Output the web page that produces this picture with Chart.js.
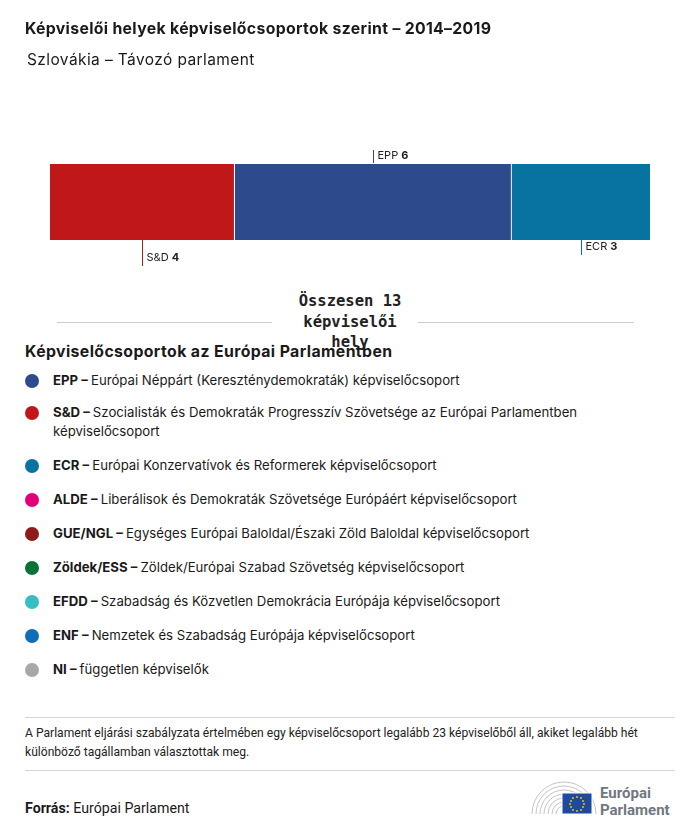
<!DOCTYPE html>
<html><head><meta charset="utf-8">
<script src="https://cdn.jsdelivr.net/npm/chart.js@4"></script>
<style>
html,body{margin:0;padding:0;background:#fff;}
body{width:700px;height:836px;position:relative;overflow:hidden;font-family:Inter,"Open Sans",sans-serif;color:#1a1a1a;}
#wrap{position:absolute;left:0;top:0;width:700px;height:280px;}
.abs{position:absolute;white-space:nowrap;}
#title{left:25px;top:19px;font-size:15.8px;font-weight:700;letter-spacing:0.33px;}
#sub{left:27px;top:50px;font-size:15.5px;letter-spacing:0.4px;}
#total{left:285px;top:291px;width:130px;text-align:center;white-space:normal;font-family:"DejaVu Sans Mono",monospace;font-weight:700;font-size:15.5px;line-height:20.5px;color:#222;}
.hr{position:absolute;height:1px;background:#ccc;}
#ltitle{left:25px;top:342px;font-size:15.8px;font-weight:700;letter-spacing:0.4px;}
.li{position:absolute;left:53px;font-size:13.2px;line-height:19px;width:620px;}
.dot{position:absolute;left:25px;width:14px;height:14px;border-radius:50%;}
#note{left:25px;top:724px;font-size:12.1px;line-height:19px;width:635px;white-space:normal;font-family:Roboto,sans-serif;color:#222;}
#src{left:25px;top:800px;font-size:14.2px;font-family:Roboto,sans-serif;}
</style></head><body>
<div id="wrap"><canvas id="c"></canvas></div>
<div class="abs" id="title">Képviselői helyek képviselőcsoportok szerint – 2014–2019</div>
<div class="abs" id="sub">Szlovákia – Távozó parlament</div>
<div class="hr" style="left:57px;width:215px;top:322px"></div>
<div class="hr" style="left:418px;width:216px;top:322px"></div>
<div class="abs" id="ltitle">Képviselőcsoportok az Európai Parlamentben</div>
<div class="abs" id="total">Összesen 13 képviselői hely</div>
<div id="legend"></div>
<div class="hr" style="left:25px;width:650px;top:717px;background:#d6d6d6"></div>
<div class="abs" id="note">A Parlament eljárási szabályzata értelmében egy képviselőcsoport legalább 23 képviselőből áll, akiket legalább hét különböző tagállamban választottak meg.</div>
<div class="hr" style="left:25px;width:650px;top:770px;background:#d6d6d6"></div>
<div class="abs" id="src"><b>Forrás:</b> Európai Parlament</div>
<svg class="abs" style="left:528px;top:776px" width="150" height="46" viewBox="0 0 150 46">
  <g fill="none" stroke="#b5b5b5" stroke-width="0.8">
    <path d="M4 38 A32 32 0 0 1 68 38"/>
    <path d="M8 38 A28 28 0 0 1 64 38"/>
    <path d="M12 38 A24 24 0 0 1 60 38"/>
    <path d="M16 38 A20 20 0 0 1 56 38"/>
    <path d="M20 38 A16 16 0 0 1 52 38"/>
    <path d="M24 38 A12 12 0 0 1 48 38"/>
    <path d="M28 38 A8 8 0 0 1 44 38"/>
  </g>
  <rect x="34" y="17" width="30" height="21" fill="#1f4a9c" stroke="#fff" stroke-width="1"/>
  <g fill="#f2d600">
    <circle cx="49" cy="21" r="0.9"/><circle cx="53" cy="22" r="0.9"/><circle cx="55" cy="25" r="0.9"/><circle cx="56" cy="28" r="0.9"/>
    <circle cx="55" cy="31" r="0.9"/><circle cx="53" cy="34" r="0.9"/><circle cx="49" cy="35" r="0.9"/><circle cx="45" cy="34" r="0.9"/>
    <circle cx="43" cy="31" r="0.9"/><circle cx="42" cy="28" r="0.9"/><circle cx="43" cy="25" r="0.9"/><circle cx="45" cy="22" r="0.9"/>
  </g>
  <text x="72" y="22" font-family="Roboto,sans-serif" font-weight="700" font-size="15" fill="#6f7880">Európai</text>
  <text x="72" y="39" font-family="Roboto,sans-serif" font-weight="700" font-size="15" fill="#6f7880">Parlament</text>
</svg>
<script>
// ---- data ----
const groups = ["S&D", "EPP", "ECR"];
const seats = [4, 6, 3];
const groupColors = ["#C01818", "#2C4A8C", "#0872A0"];
const totalSeats = 13;

const legendCodes = ["EPP", "S&D", "ECR", "ALDE", "GUE/NGL", "Zöldek/ESS", "EFDD", "ENF", "NI"];
const legendNames = [
  "Európai Néppárt (Kereszténydemokraták) képviselőcsoport",
  "Szocialisták és Demokraták Progresszív Szövetsége az Európai Parlamentben képviselőcsoport",
  "Európai Konzervatívok és Reformerek képviselőcsoport",
  "Liberálisok és Demokraták Szövetsége Európáért képviselőcsoport",
  "Egységes Európai Baloldal/Északi Zöld Baloldal képviselőcsoport",
  "Zöldek/Európai Szabad Szövetség képviselőcsoport",
  "Szabadság és Közvetlen Demokrácia Európája képviselőcsoport",
  "Nemzetek és Szabadság Európája képviselőcsoport",
  "független képviselők"
];
const legendColors = ["#2C4A8C", "#C01818", "#0872A0", "#E2007A", "#8E1A1A", "#0B7236", "#36BEC2", "#106EB6", "#A8A8A8"];

// ---- styles ----
const labelPlacement = [ {side:"below", len:26}, {side:"above", len:13}, {side:"below", len:15} ];
const legendTops = [371, 403, 456, 490, 524, 558, 592, 626, 660];
const legendWidths = [null, 575, null, null, null, null, null, null, null];

// legend
const lg = document.getElementById('legend');
legendCodes.forEach((code, i) => {
  const d = document.createElement('div');
  d.className = 'dot';
  d.style.top = (legendTops[i] + 3) + 'px';
  d.style.background = legendColors[i];
  lg.appendChild(d);
  const t = document.createElement('div');
  t.className = 'li';
  t.style.top = legendTops[i] + 'px';
  if (legendWidths[i]) t.style.width = legendWidths[i] + 'px';
  const b = document.createElement('b'); b.textContent = code + ' – ';
  t.appendChild(b);
  t.appendChild(document.createTextNode(legendNames[i]));
  lg.appendChild(t);
});

const labelPlugin = {
  id: 'segLabels',
  afterDatasetsDraw(chart) {
    const ctx = chart.ctx;
    const area = chart.chartArea;
    chart.data.datasets.forEach((ds, i) => {
      const el = chart.getDatasetMeta(i).data[0];
      const cx = Math.round((el.x + el.base) / 2) + 0.5;
      const p = labelPlacement[i];
      ctx.save();
      ctx.strokeStyle = groupColors[i];
      ctx.lineWidth = 1;
      ctx.beginPath();
      let ty;
      if (p.side === 'above') {
        ctx.moveTo(cx, area.top - 1); ctx.lineTo(cx, area.top - 1 - p.len);
        ty = area.top - 1 - p.len / 2 - 0.5;
      } else {
        ctx.moveTo(cx, area.bottom); ctx.lineTo(cx, area.bottom + p.len);
        ty = area.bottom + p.len - 8;
      }
      ctx.stroke();
      ctx.textBaseline = 'middle';
      ctx.fillStyle = '#222';
      ctx.font = '11px Inter, "Open Sans", sans-serif';
      const name = groups[i] + ' ';
      ctx.fillText(name, cx + 4, ty);
      const w = ctx.measureText(name).width;
      ctx.font = 'bold 11px Inter, "Open Sans", sans-serif';
      ctx.fillText(String(seats[i]), cx + 4 + w, ty);
      ctx.restore();
    });
  }
};

new Chart(document.getElementById('c'), {
  type: 'bar',
  data: {
    labels: ['seats'],
    datasets: groups.map((g, i) => ({
      label: g,
      data: [seats[i]],
      backgroundColor: groupColors[i],
      borderColor: '#ffffff',
      borderWidth: i < groups.length - 1 ? {top:0, right:1, bottom:0, left:0} : 0,
      borderSkipped: false,
      categoryPercentage: 1,
      barPercentage: 1
    }))
  },
  options: {
    indexAxis: 'y',
    responsive: true,
    maintainAspectRatio: false,
    animation: false,
    layout: { padding: { left: 50, right: 50, top: 164, bottom: 40 } },
    plugins: { legend: { display: false }, tooltip: { enabled: false } },
    scales: {
      x: { stacked: true, min: 0, max: totalSeats, display: false },
      y: { stacked: true, display: false }
    }
  },
  plugins: [labelPlugin]
});
</script>
</body></html>
